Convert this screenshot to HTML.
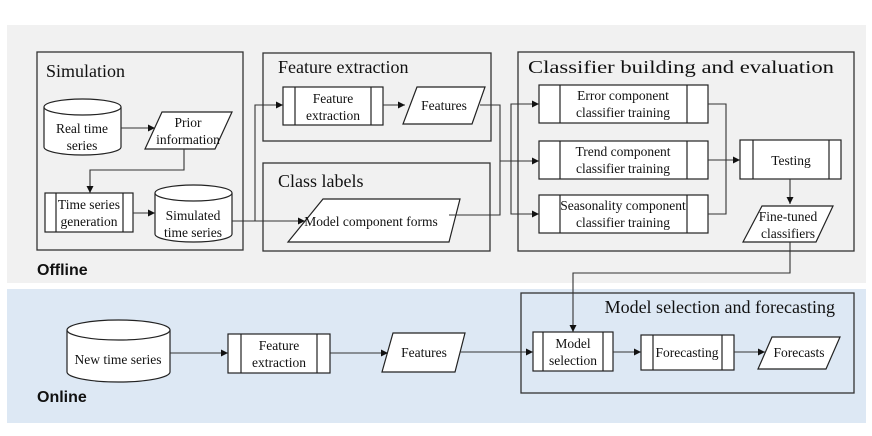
<!DOCTYPE html>
<html><head><meta charset="utf-8"><style>
html,body{margin:0;padding:0;background:#fff;}
svg{display:block;}
text{font-family:"Liberation Serif",serif;fill:#111;}
.t{font-size:18px;}
.n{font-size:13.5px;text-anchor:middle;}
.b{font-family:"Liberation Sans",sans-serif;font-weight:bold;font-size:16px;}
</style></head><body>
<svg width="872" height="436" viewBox="0 0 872 436" xmlns="http://www.w3.org/2000/svg">
<defs><marker id="a" markerWidth="8" markerHeight="8" refX="7" refY="4" orient="auto" markerUnits="userSpaceOnUse"><path d="M0,0.5 L7,4 L0,7.5z" fill="#111"/></marker></defs>
<rect x="7" y="25" width="859" height="258" fill="#f1f1f1"/>
<rect x="7" y="289" width="859" height="134" fill="#dde8f4"/>
<g fill="none" stroke="#333" stroke-width="1.3">
<rect x="37" y="52" width="206" height="198"/>
<rect x="263" y="53" width="228" height="88"/>
<rect x="263" y="163" width="227" height="88"/>
<rect x="518" y="52" width="336" height="199"/>
<rect x="521" y="293" width="333" height="100"/>
</g>
<text class="t" x="46" y="77">Simulation</text>
<text class="t" x="278" y="73">Feature extraction</text>
<text class="t" x="278" y="187">Class labels</text>
<text class="t" x="528" y="73" textLength="306" lengthAdjust="spacingAndGlyphs">Classifier building and evaluation</text>
<text class="t" x="835" y="313" text-anchor="end">Model selection and forecasting</text>
<text class="b" x="37" y="275">Offline</text>
<text class="b" x="37" y="402">Online</text>
<g fill="#fff" stroke="#222" stroke-width="1.2">
<!-- cylinders -->
<path d="M44,107 L44,147 A38.5,8 0 0 0 121,147 L121,107"/><ellipse cx="82.5" cy="107" rx="38.5" ry="8"/>
<path d="M155,193 L155,234 A38.5,8 0 0 0 232,234 L232,193"/><ellipse cx="193.5" cy="193" rx="38.5" ry="8"/>
<path d="M67,330 L67,372 A51.5,10 0 0 0 170,372 L170,330"/><ellipse cx="118.5" cy="330" rx="51.5" ry="10"/>
<!-- parallelograms -->
<polygon points="162,112 232,112 215,149 145,149"/>
<polygon points="417,87 485,87 472,124 403,124"/>
<polygon points="323,199 460,199 449,242 288,242"/>
<polygon points="762,206 833,206 816,242 743,242"/>
<polygon points="393,333 465,333 455,372 382,372"/>
<polygon points="772,337 840,337 826,369 758,369"/>
<!-- process boxes -->
<rect x="45" y="193" width="88" height="39"/>
<rect x="283" y="87" width="100" height="38"/>
<rect x="539" y="85" width="169" height="38"/>
<rect x="539" y="141" width="169" height="38"/>
<rect x="539" y="195" width="169" height="38"/>
<rect x="740" y="140" width="101" height="39"/>
<rect x="228" y="334" width="102" height="39"/>
<rect x="533" y="332" width="80" height="39"/>
<rect x="641" y="335" width="93" height="35"/>
</g>
<g stroke="#222" stroke-width="1.2">
<line x1="56" y1="193" x2="56" y2="232"/><line x1="123" y1="193" x2="123" y2="232"/>
<line x1="295" y1="87" x2="295" y2="125"/><line x1="371" y1="87" x2="371" y2="125"/>
<line x1="560" y1="85" x2="560" y2="123"/><line x1="687" y1="85" x2="687" y2="123"/>
<line x1="560" y1="141" x2="560" y2="179"/><line x1="687" y1="141" x2="687" y2="179"/>
<line x1="560" y1="195" x2="560" y2="233"/><line x1="687" y1="195" x2="687" y2="233"/>
<line x1="753" y1="140" x2="753" y2="179"/><line x1="829" y1="140" x2="829" y2="179"/>
<line x1="241" y1="334" x2="241" y2="373"/><line x1="317" y1="334" x2="317" y2="373"/>
<line x1="543" y1="332" x2="543" y2="371"/><line x1="603" y1="332" x2="603" y2="371"/>
<line x1="653" y1="335" x2="653" y2="370"/><line x1="722" y1="335" x2="722" y2="370"/>
</g>
<g fill="none" stroke="#333" stroke-width="1.1">
<path d="M121,128 L155,128" marker-end="url(#a)"/>
<path d="M184,149 L184,170 L90,170 L90,193" marker-end="url(#a)"/>
<path d="M133,213 L155,213" marker-end="url(#a)"/>
<path d="M232,221 L305,221" marker-end="url(#a)"/>
<path d="M255,221 L255,105 L283,105" marker-end="url(#a)"/>
<path d="M383,105 L405,105" marker-end="url(#a)"/>
<path d="M480,105 L500,105 L500,215 L449,215"/>
<path d="M500,161 L539,161" marker-end="url(#a)"/>
<path d="M539,104 L511,104 L511,214 L539,214"/>
<path d="M511,104 L539,104" marker-end="url(#a)"/>
<path d="M511,214 L539,214" marker-end="url(#a)"/>
<path d="M708,104 L726,104 L726,214 L708,214"/>
<path d="M708,160 L740,160" marker-end="url(#a)"/>
<path d="M790,179 L790,204" marker-end="url(#a)"/>
<path d="M790,242 L790,273 L573,273 L573,332" marker-end="url(#a)"/>
<path d="M170,353 L228,353" marker-end="url(#a)"/>
<path d="M330,353 L388,353" marker-end="url(#a)"/>
<path d="M460,352 L533,352" marker-end="url(#a)"/>
<path d="M613,352 L641,352" marker-end="url(#a)"/>
<path d="M734,352 L765,352" marker-end="url(#a)"/>
</g>
<text class="n" x="82" y="133">Real time</text><text class="n" x="82" y="150">series</text>
<text class="n" x="188" y="127">Prior</text><text class="n" x="188" y="144">information</text>
<text class="n" x="89" y="209">Time series</text><text class="n" x="89" y="226">generation</text>
<text class="n" x="193" y="220">Simulated</text><text class="n" x="193" y="237">time series</text>
<text class="n" x="333" y="103">Feature</text><text class="n" x="333" y="120">extraction</text>
<text class="n" x="444" y="110">Features</text>
<text class="n" x="371" y="226">Model component forms</text>
<text class="n" x="623" y="100">Error component</text><text class="n" x="623" y="117">classifier training</text>
<text class="n" x="623" y="156">Trend component</text><text class="n" x="623" y="173">classifier training</text>
<text class="n" x="623" y="210">Seasonality component</text><text class="n" x="623" y="227">classifier training</text>
<text class="n" x="791" y="165">Testing</text>
<text class="n" x="788" y="221">Fine-tuned</text><text class="n" x="788" y="238">classifiers</text>
<text class="n" x="118" y="364">New time series</text>
<text class="n" x="279" y="350">Feature</text><text class="n" x="279" y="367">extraction</text>
<text class="n" x="424" y="357">Features</text>
<text class="n" x="573" y="348">Model</text><text class="n" x="573" y="365">selection</text>
<text class="n" x="687" y="357">Forecasting</text>
<text class="n" x="799" y="357">Forecasts</text>
</svg>
</body></html>
